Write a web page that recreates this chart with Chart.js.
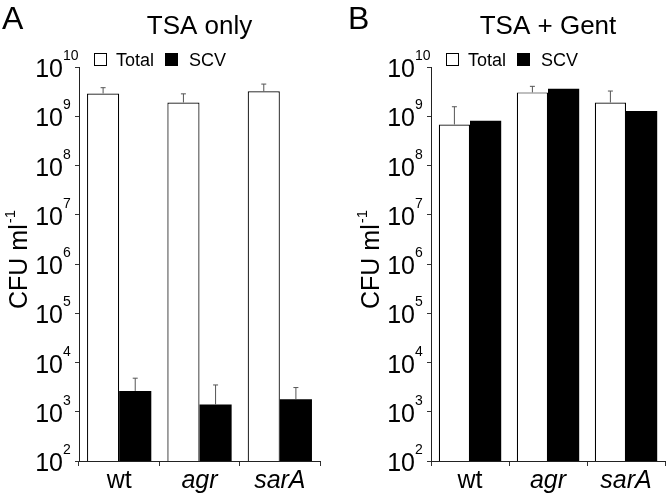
<!DOCTYPE html>
<html>
<head>
<meta charset="utf-8">
<script src="https://cdn.jsdelivr.net/npm/chart.js@4"></script>
<style>
  html, body { margin: 0; padding: 0; background: #fff; }
  .panel { position: absolute; top: 0; width: 333px; height: 493px; }
</style>
</head>
<body>
<div class="panel" style="left:0"><canvas id="chartA" width="333" height="493"></canvas></div>
<div class="panel" style="left:333px"><canvas id="chartB" width="333" height="493"></canvas></div>
<script>
const FONT = "'Liberation Sans', Arial, sans-serif";

// Data
const categories = ['wt', 'agr', 'sarA'];
const italicCats = [false, true, true];
const yTickExps = [2, 3, 4, 5, 6, 7, 8, 9, 10];

// Panel A: TSA only
const totalA = [2.9e9, 1.9e9, 3.2e9];
const totalSdA = [0.9e9, 0.95e9, 1.3e9];
const scvA = [2.65e3, 1.4e3, 1.8e3];
const scvSdA = [2.15e3, 2.1e3, 1.3e3];

// Panel B: TSA + Gent
const totalB = [6.8e8, 3.05e9, 1.9e9];
const totalSdB = [8.8e8, 1.0e9, 1.35e9];
const scvB = [8.1e8, 3.6e9, 1.28e9];

// Draws error bars, y labels with exponents, axis title, legend, titles
const decor = {
  id: 'decor',
  afterDraw(chart, args, opts) {
    const { ctx, chartArea: a, scales: { y } } = chart;
    ctx.save();

    // error bars (upper only)
    chart.data.datasets.forEach((ds, i) => {
      if (!ds.sd) return;
      const meta = chart.getDatasetMeta(i);
      meta.data.forEach((bar, j) => {
        const sd = ds.sd[j];
        if (sd == null) return;
        const top = y.getPixelForValue(ds.data[j] + sd);
        ctx.strokeStyle = '#555';
        ctx.lineWidth = 1;
        ctx.beginPath();
        ctx.moveTo(bar.x, bar.y);
        ctx.lineTo(bar.x, top);
        ctx.moveTo(bar.x - 2.5, top);
        ctx.lineTo(bar.x + 2.5, top);
        ctx.stroke();
      });
    });

    // y tick labels 10^n
    ctx.fillStyle = '#000';
    y.ticks.forEach(t => {
      const py = y.getPixelForValue(t.value);
      const exp = Math.round(Math.log10(t.value));
      ctx.font = `25px ${FONT}`;
      ctx.textAlign = 'right';
      ctx.textBaseline = 'alphabetic';
      ctx.fillText('10', a.left - 16, py + 10);
      ctx.font = `14px ${FONT}`;
      ctx.textAlign = 'left';
      ctx.fillText(String(exp), a.left - 16, py - 7);
    });

    // y axis title: CFU ml^-1
    ctx.save();
    ctx.font = `25px ${FONT}`;
    const w1 = ctx.measureText('CFU ml').width;
    ctx.font = `15px ${FONT}`;
    const w2 = ctx.measureText('-1').width;
    const cy = (a.top + a.bottom) / 2 - 4;
    ctx.translate(a.left - 52, cy + (w1 + w2) / 2);
    ctx.rotate(-Math.PI / 2);
    ctx.textAlign = 'left';
    ctx.font = `25px ${FONT}`;
    ctx.fillText('CFU ml', 0, 0);
    ctx.font = `15px ${FONT}`;
    ctx.fillText('-1', w1 + 1, -12);
    ctx.restore();

    // legend
    const lx = a.left + 15;
    ctx.lineWidth = 1;
    ctx.fillStyle = '#fff';
    ctx.strokeStyle = '#000';
    ctx.fillRect(lx, 53, 13, 13);
    ctx.strokeRect(lx + 0.5, 53.5, 12, 12);
    ctx.fillStyle = '#000';
    ctx.fillRect(lx + 71, 53, 13, 13);
    ctx.font = `18px ${FONT}`;
    ctx.textAlign = 'left';
    ctx.fillText(chart.data.datasets[0].label, lx + 22, 66);
    ctx.fillText(chart.data.datasets[1].label, lx + 95, 66);

    // panel title and letter
    ctx.font = `26px ${FONT}`;
    ctx.textAlign = 'center';
    ctx.fillText(opts.title, (a.left + a.right) / 2, 34);
    ctx.font = `32px ${FONT}`;
    ctx.textAlign = 'left';
    ctx.fillText(opts.letter, opts.letterX, 29);

    ctx.restore();
  }
};

function makeChart(id, total, totalSd, scv, scvSd, o) {
  return new Chart(document.getElementById(id), {
    type: 'bar',
    data: {
      labels: categories,
      datasets: [
        {
          label: 'Total',
          data: total,
          sd: totalSd,
          backgroundColor: '#fff',
          borderColor: '#000',
          borderWidth: 1.2,
          categoryPercentage: 0.8,
          barPercentage: 1
        },
        {
          label: 'SCV',
          data: scv,
          sd: scvSd,
          backgroundColor: '#000',
          borderWidth: 0,
          categoryPercentage: 0.8,
          barPercentage: 1
        }
      ]
    },
    options: {
      responsive: false,
      animation: false,
      layout: { padding: { left: 0, right: o.right, top: 67, bottom: 0 } },
      plugins: {
        legend: { display: false },
        tooltip: { enabled: false },
        decor: { title: o.title, letter: o.letter, letterX: o.letterX }
      },
      scales: {
        x: {
          grid: { drawOnChartArea: false, tickLength: 5, color: '#333' },
          border: { color: '#222', width: 1 },
          ticks: {
            color: '#000',
            padding: 0,
            autoSkip: false,
            maxRotation: 0,
            font: c => ({ family: FONT, size: 25, style: italicCats[c.index] ? 'italic' : 'normal' })
          },
          afterFit: s => { s.height = 32; }
        },
        y: {
          type: 'logarithmic',
          min: 1e2,
          max: 1e10,
          grid: { drawOnChartArea: false, tickLength: 4, color: '#333' },
          border: { color: '#222', width: 1 },
          ticks: { display: false },
          afterBuildTicks: s => { s.ticks = yTickExps.map(e => ({ value: Math.pow(10, e) })); },
          afterFit: s => { s.width = o.axisLeft; }
        }
      }
    },
    plugins: [decor]
  });
}

makeChart('chartA', totalA, totalSdA, scvA, scvSdA,
  { title: 'TSA only', letter: 'A', letterX: 2, axisLeft: 79, right: 13 });
makeChart('chartB', totalB, totalSdB, scvB, null,
  { title: 'TSA + Gent', letter: 'B', letterX: 15, axisLeft: 98, right: 1 });
</script>
</body>
</html>
